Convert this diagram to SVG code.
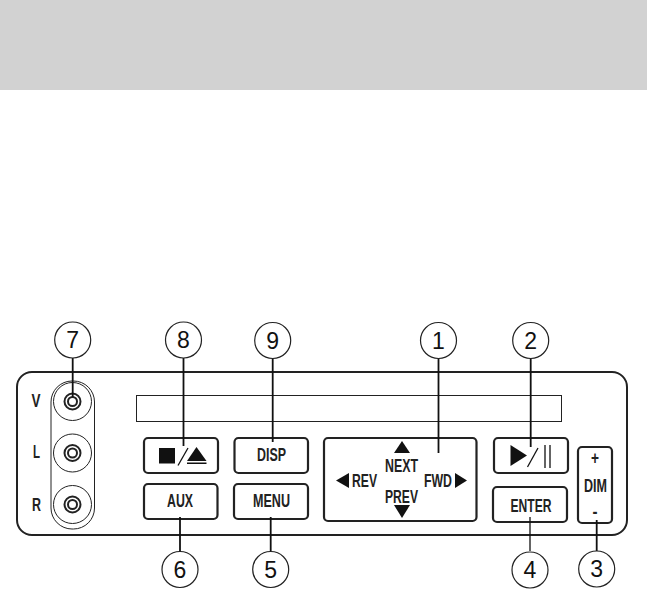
<svg xmlns="http://www.w3.org/2000/svg" width="647" height="592" viewBox="0 0 647 592">
<style>
.num{font:23px "Liberation Sans",Arial,sans-serif;fill:#111;text-anchor:middle}
.lab{font:bold 19px "Liberation Sans",Arial,sans-serif;fill:#222;text-anchor:middle}
.call{fill:#fff;stroke:#222;stroke-width:1.2}
.btn{fill:#fff;stroke:#222;stroke-width:2.2}
.thin{fill:none;stroke:#222;stroke-width:1}
.ring{fill:none;stroke:#222;stroke-width:2}
.ln{fill:none;stroke:#111;stroke-width:1.8}
.sl{fill:none;stroke:#111;stroke-width:1.300}
.k{fill:#111}
</style>
<rect width="647" height="592" fill="#fff"/>
<rect id="header-band" width="647" height="90" fill="#d2d2d2"/>
<g id="panel"><rect x="17" y="372" width="610" height="163" rx="15" fill="#fff" stroke="#222" stroke-width="2"/></g>
<g id="display"><rect x="136.500" y="395.500" width="425" height="26" class="thin"/></g>
<g id="jacks">
<rect x="51" y="381" width="43.500" height="148" rx="21" class="thin"/>
<circle cx="72.500" cy="401.500" r="19" class="thin"/><circle cx="72.500" cy="401.500" r="8" class="ring"/><circle cx="72.500" cy="401.500" r="4.500" class="ring"/>
<circle cx="72.500" cy="453" r="19" class="thin"/><circle cx="72.500" cy="453" r="8" class="ring"/><circle cx="72.500" cy="453" r="4.500" class="ring"/>
<circle cx="72.500" cy="504.500" r="19" class="thin"/><circle cx="72.500" cy="504.500" r="8" class="ring"/><circle cx="72.500" cy="504.500" r="4.500" class="ring"/>
<text class="lab" x="36" y="407" textLength="9" lengthAdjust="spacingAndGlyphs">V</text>
<text class="lab" x="36.500" y="458" textLength="7" lengthAdjust="spacingAndGlyphs">L</text>
<text class="lab" x="36.500" y="510.500" textLength="9" lengthAdjust="spacingAndGlyphs">R</text>
</g>
<g id="btn-stop-eject"><rect x="144" y="438" width="74" height="35" rx="4" class="btn"/>
<rect x="159" y="448" width="16" height="15.500" class="k"/><path d="M178 465.500 L188 448" class="sl"/><polygon points="187,461 206.500,461 196.500,447" class="k"/><rect x="187" y="462.500" width="19.500" height="1.500" class="k"/></g>
<g id="btn-disp"><rect x="234.500" y="438" width="73.500" height="35" rx="4" class="btn"/><text class="lab" x="271.500" y="460.700" textLength="29" lengthAdjust="spacingAndGlyphs">DISP</text></g>
<g id="btn-aux"><rect x="144" y="484" width="73.500" height="35" rx="4" class="btn"/><text class="lab" x="180" y="507" textLength="26" lengthAdjust="spacingAndGlyphs">AUX</text></g>
<g id="btn-menu"><rect x="234" y="484" width="74" height="35" rx="4" class="btn"/><text class="lab" x="271.500" y="507" textLength="37" lengthAdjust="spacingAndGlyphs">MENU</text></g>
<g id="btn-nav"><rect x="324" y="438" width="152.500" height="83" rx="4" class="btn"/>
<polygon points="402,441 394,453 410,453" class="k"/><polygon points="394,505 410,505 402,518" class="k"/><polygon points="336,480.500 349,473 349,488" class="k"/><polygon points="467,480.500 455,473 455,488" class="k"/>
<text class="lab" x="401.500" y="472" textLength="33" lengthAdjust="spacingAndGlyphs">NEXT</text>
<text class="lab" x="401.500" y="503" textLength="33" lengthAdjust="spacingAndGlyphs">PREV</text>
<text class="lab" x="364.500" y="487" textLength="25" lengthAdjust="spacingAndGlyphs">REV</text>
<text class="lab" x="438" y="487" textLength="28" lengthAdjust="spacingAndGlyphs">FWD</text></g>
<g id="btn-play"><rect x="494" y="438" width="74" height="35" rx="4" class="btn"/><polygon points="510.500,445 510.500,466 527,455.500" class="k"/><path d="M527.500 467 L538 448" class="sl"/><path d="M545 445V468M550 445V468" class="sl"/></g>
<g id="btn-enter"><rect x="493" y="487" width="74" height="35" rx="4" class="btn"/><text class="lab" x="531" y="511.500" textLength="41" lengthAdjust="spacingAndGlyphs">ENTER</text></g>
<g id="btn-dim"><rect x="578" y="447" width="34" height="76" rx="4" class="btn"/>
<text class="lab" x="595" y="464" textLength="8" lengthAdjust="spacingAndGlyphs">+</text>
<text class="lab" x="595.500" y="492" textLength="23" lengthAdjust="spacingAndGlyphs">DIM</text>
<text class="lab" x="595" y="518" textLength="5" lengthAdjust="spacingAndGlyphs">-</text></g>
<g id="connectors">
<path class="ln" d="M72.700 358V397"/><path class="ln" d="M183.500 358V446"/><path class="ln" d="M272.700 358V442"/><path class="ln" d="M438.500 358V453"/><path class="ln" d="M530.700 358V447"/>
<path class="ln" d="M180 517V551"/><path class="ln" d="M270.700 517V551"/><path class="sl" d="M530 517V551"/><path class="ln" d="M596.700 520V551"/>
</g>
<g id="callout-7"><circle class="call" cx="72.700" cy="340" r="18"/><text class="num" x="72.700" y="348">7</text></g>
<g id="callout-8"><circle class="call" cx="183.500" cy="340" r="18"/><text class="num" x="183.500" y="348">8</text></g>
<g id="callout-9"><circle class="call" cx="272.700" cy="340.500" r="18"/><text class="num" x="272.700" y="348.500">9</text></g>
<g id="callout-1"><circle class="call" cx="438.500" cy="340.500" r="18"/><text class="num" x="438.500" y="348.500">1</text></g>
<g id="callout-2"><circle class="call" cx="530.700" cy="340.500" r="18"/><text class="num" x="530.700" y="348.500">2</text></g>
<g id="callout-6"><circle class="call" cx="180" cy="569.500" r="18"/><text class="num" x="180" y="577.500">6</text></g>
<g id="callout-5"><circle class="call" cx="270.700" cy="569.500" r="18"/><text class="num" x="270.700" y="577.500">5</text></g>
<g id="callout-4"><circle class="call" cx="530" cy="570" r="18"/><text class="num" x="530" y="578">4</text></g>
<g id="callout-3"><circle class="call" cx="596.700" cy="569" r="18"/><text class="num" x="596.700" y="577">3</text></g>
</svg>
